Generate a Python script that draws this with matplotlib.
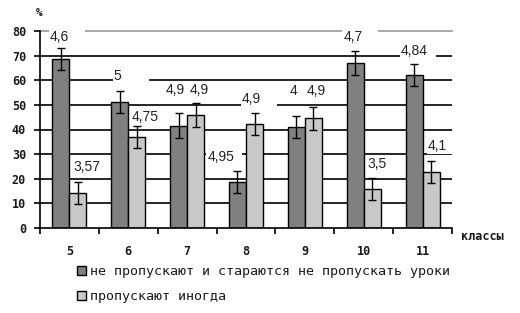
import numpy as np
import matplotlib
matplotlib.use("Agg")
import matplotlib.pyplot as plt
from matplotlib.patches import Rectangle, Patch
from matplotlib.transforms import IdentityTransform

# data
classes = ["5", "6", "7", "8", "9", "10", "11"]
never_skip = [68.7, 51.2, 41.5, 18.8, 41.0, 67.0, 62.2]
skip_sometimes = [14.2, 37.0, 46.0, 42.3, 44.5, 15.8, 22.8]
err_never = [4.5, 4.5, 5.0, 4.5, 4.5, 4.8, 4.5]
err_skip = [4.5, 4.5, 4.8, 4.5, 4.8, 4.5, 4.5]
lab_never = ["4,6", "5", "4,9", "4,95", "4", "4,7", "4,84"]
lab_skip = ["3,57", "4,75", "4,9", "4,9", "4,9", "3,5", "4,1"]
legend_names = ["не пропускают и стараются не пропускать уроки", "пропускают иногда"]

# label placement (pixels: left edge rel. to bar centre, centre above error top)
off_never = [(-11, 11), (-6, 15), (-13, 23), (-30, 14), (-7, 25), (-12, 14), (-13, 13)]
off_skip = [(-5, 15), (-5, 9), (-6, 13), (-13, 14), (-7, 16), (-5, 14), (-3, 15)]

DARK = "#808080"
LIGHT = "#c8c8c8"
mono = "DejaVu Sans Mono"
TXT = "#1a1a1a"

W, H = 520, 313
fig = plt.figure(figsize=(W / 100, H / 100), dpi=100)
ax = fig.add_axes([40 / W, 1 - 228 / H, 412 / W, 197 / H])

x = np.arange(len(classes))
bw = 0.29
ax.set_xlim(-0.5, len(classes) - 0.5)
ax.set_ylim(0, 80)

for v in range(10, 80, 10):
    ax.axhline(v, color="black", lw=1.2, zorder=0)
ax.axhline(80, color="#9a9a9a", lw=1.2, zorder=0, clip_on=False)

ax.bar(x - bw / 2, never_skip, bw, color=DARK, edgecolor="black", lw=1, zorder=2)
ax.bar(x + bw / 2, skip_sometimes, bw, color=LIGHT, edgecolor="black", lw=1, zorder=2)
ax.errorbar(x - bw / 2, never_skip, yerr=err_never, fmt="none", ecolor="black",
            elinewidth=1, capsize=3.2, capthick=1, zorder=3)
ax.errorbar(x + bw / 2, skip_sometimes, yerr=err_skip, fmt="none", ecolor="black",
            elinewidth=1, capsize=3.2, capthick=1, zorder=3)

# data labels with fixed-width white boxes like Excel
def put_labels(xs, vals, errs, labs, offs):
    for xi, v, e, t, (dx, dy) in zip(xs, vals, errs, labs, offs):
        px, py = ax.transData.transform((xi, v + e))
        lx, ly = px + dx, py + dy
        ax.add_patch(Rectangle((lx - 1, ly - 8), 36, 16, transform=IdentityTransform(),
                               facecolor="white", edgecolor="none", zorder=1.5, clip_on=False))
        ax.text(lx, ly, t, transform=IdentityTransform(), ha="left", va="center",
                fontsize=10, family="Liberation Sans", color="#222222", zorder=4)

put_labels(x - bw / 2, never_skip, err_never, lab_never, off_never)
put_labels(x + bw / 2, skip_sometimes, err_skip, lab_skip, off_skip)

# axes styling
for s in ["top", "right"]:
    ax.spines[s].set_visible(False)
ax.spines["left"].set_linewidth(1.2)
ax.spines["bottom"].set_linewidth(1.2)
ax.set_yticks(range(0, 81, 10))
ax.set_yticklabels([str(v) for v in range(0, 81, 10)], family=mono,
                   fontsize=8.5, fontweight="bold", color=TXT)
ax.tick_params(axis="y", length=4, width=1.2, pad=6)
ax.set_xticks(x)
ax.set_xticklabels(classes, family=mono, fontsize=8.5, fontweight="bold", color=TXT)
ax.set_xticks(np.arange(-0.5, len(classes), 1), minor=True)
ax.tick_params(axis="x", which="major", length=0, pad=12)
ax.tick_params(axis="x", which="minor", length=4, width=1.2)

fig.text(39 / W, 1 - 13 / H, "%", family=mono, fontsize=8, fontweight="bold",
         ha="center", va="center", color=TXT)
fig.text(461 / W, 1 - 236 / H, "классы", family=mono, fontsize=8.5, fontweight="bold",
         ha="left", va="center", color=TXT)

handles = [Patch(facecolor=DARK, edgecolor="black", lw=1),
           Patch(facecolor=LIGHT, edgecolor="black", lw=1)]
leg = fig.legend(handles, legend_names, loc="upper left", bbox_to_anchor=(77 / W, 1 - 265 / H),
                 frameon=False, prop={"family": mono, "size": 9.6},
                 handlelength=0.7, handleheight=0.7, handletextpad=0.3,
                 labelspacing=0.9, borderpad=0, borderaxespad=0)
for t in leg.get_texts():
    t.set_color(TXT)

fig.savefig("out.png", dpi=100)
